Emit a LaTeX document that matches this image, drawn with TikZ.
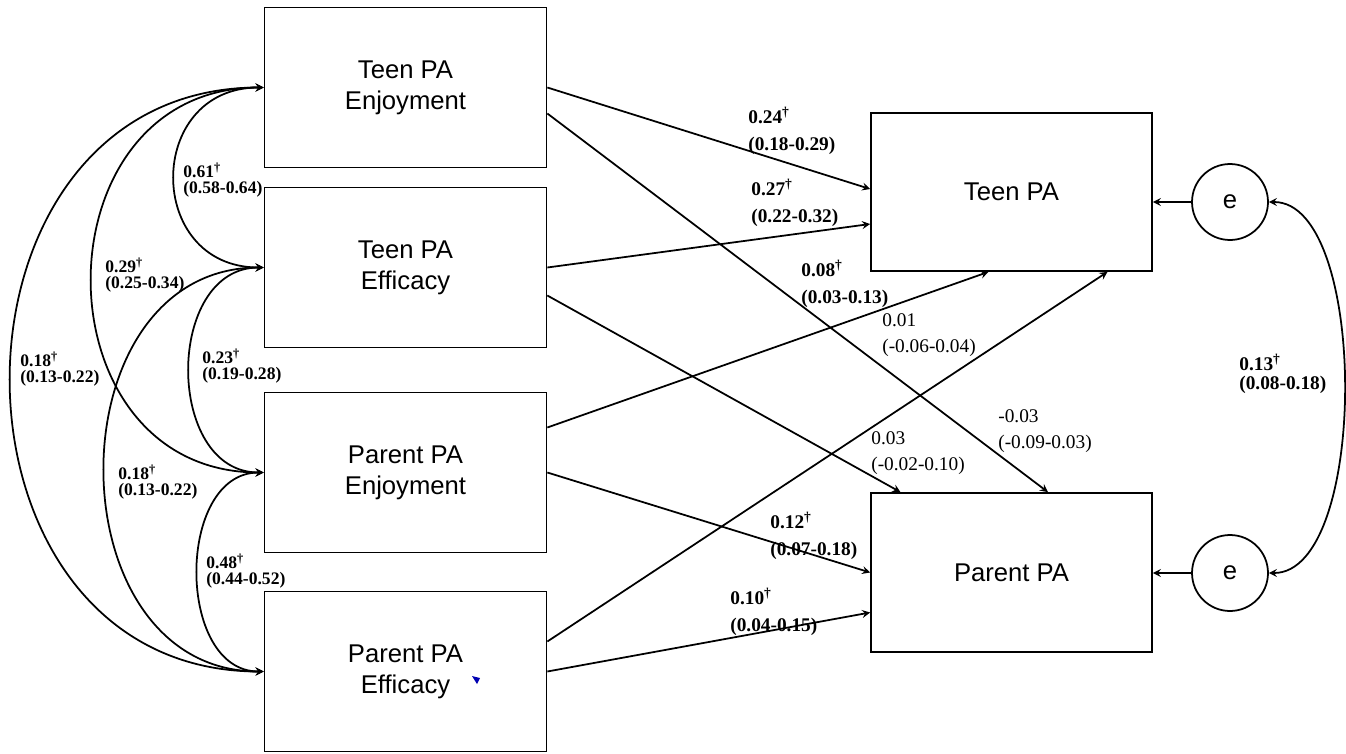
\documentclass[tikz,border=0pt]{standalone}
\usepackage{fontspec}
\setmainfont{Liberation Serif}
\newfontfamily\boxfont{Liberation Sans}
\usetikzlibrary{arrows, calc}
\newcommand{\sigdag}{\textsuperscript{\dag}}

\begin{document}
\begin{tikzpicture}[
    x=0.02cm, y=-0.02cm,
    var/.style={rectangle, draw, line width=1pt, minimum width=5.64cm, minimum height=3.2cm, align=center, font=\boxfont\fontsize{14.6}{17.5}\selectfont},
    err/.style={circle, draw, line width=1pt, minimum size=1.52cm, inner sep=0pt, font=\boxfont\fontsize{14.6}{17.5}\selectfont},
    effect/.style={->, >=stealth, line width=1pt},
    cov/.style={<->, >=stealth, line width=1pt},
    coef/.style={anchor=west, align=left, inner sep=0pt, font=\fontsize{11}{15}\selectfont},
    sig/.style={coef, font=\bfseries\fontsize{11}{15}\selectfont},
    corr/.style={anchor=west, align=left, inner sep=0pt, font=\bfseries\fontsize{10}{9}\selectfont}
]
\useasboundingbox (0,0) rectangle (1346,754);

\node[var] (tpe) at (405.5,87.5) {Teen PA\\Enjoyment};
\node[var] (tpf) at (405.5,267.5) {Teen PA\\Efficacy};
\node[var] (ppe) at (405.5,472.5) {Parent PA\\Enjoyment};
\node[var] (ppf) at (405.5,671.5) {Parent PA\\Efficacy};
\node[var, minimum width=5.62cm, minimum height=3.16cm] (tpa) at (1011.5,192) {Teen PA};
\node[var, minimum width=5.62cm, minimum height=3.18cm] (ppa) at (1011.5,572.5) {Parent PA};
\node[err] (e1) at (1230,202) {e};
\node[err] (e2) at (1230,573) {e};

\draw[effect] (tpe.east) -- ($(tpa.west)+(0,-3)$);
\draw[effect] ($(tpe.east)+(0,26)$) -- ($(ppa.north)+(36.5,0)$);
\draw[effect] (tpf.east) -- ($(tpa.west)+(0,32)$);
\draw[effect] ($(tpf.east)+(0,28)$) -- ($(ppa.north)+(-111,0)$);
\draw[effect] ($(ppe.east)+(0,-45)$) -- ($(tpa.south)+(-23,0)$);
\draw[effect] (ppe.east) -- (ppa.west);
\draw[effect] ($(ppf.east)+(0,-30)$) -- ($(tpa.south)+(96,0)$);
\draw[effect] (ppf.east) -- ($(ppa.west)+(0,40)$);
\draw[effect] (e1) -- (e1 -| tpa.east);
\draw[effect] (e2) -- (e2 -| ppa.east);

\draw[cov] (tpe.west) .. controls +(-119,0) and +(-119,0) .. (tpf.west);
\draw[cov] (tpf.west) .. controls +(-99,0) and +(-99,0) .. (ppe.west);
\draw[cov] (ppe.west) .. controls +(-88,0) and +(-88,0) .. (ppf.west);
\draw[cov] (tpe.west) .. controls +(-229,0) and +(-229,0) .. (ppe.west);
\draw[cov] (tpf.west) .. controls +(-212,0) and +(-212,0) .. (ppf.west);
\draw[cov] (tpe.west) .. controls +(-337,0) and +(-337,0) .. (ppf.west);
\draw[cov] (e1.east) .. controls +(100,0) and +(100,0) .. (e2.east);

\node[corr] (r61) at (183,180) {0.61\sigdag\\(0.58-0.64)};
\node[corr] (r29) at (105,275) {0.29\sigdag\\(0.25-0.34)};
\node[corr] (r18a) at (20,369) {0.18\sigdag\\(0.13-0.22)};
\node[corr] (r23) at (202,366) {0.23\sigdag\\(0.19-0.28)};
\node[corr] (r18b) at (118,482) {0.18\sigdag\\(0.13-0.22)};
\node[corr] (r48) at (206,571) {0.48\sigdag\\(0.44-0.52)};

\node[sig] (b24) at (748,131) {0.24\sigdag\\(0.18-0.29)};
\node[sig] (b27) at (751,203) {0.27\sigdag\\(0.22-0.32)};
\node[sig] (b08) at (801,284) {0.08\sigdag\\(0.03-0.13)};
\node[coef] (b01) at (882,335) {0.01\\(-0.06-0.04)};
\node[coef] (bm03) at (998,431) {-0.03\\(-0.09-0.03)};
\node[coef] (b03) at (871,453) {0.03\\(-0.02-0.10)};
\node[sig] (b12) at (770,536) {0.12\sigdag\\(0.07-0.18)};
\node[sig] (b10) at (730,612) {0.10\sigdag\\(0.04-0.15)};
\node[sig, font=\bfseries\fontsize{11}{10.5}\selectfont] (b13) at (1239,374) {0.13\sigdag\\(0.08-0.18)};

\fill[blue!70!black] (472,676) -- (480,678) -- (477,684) -- cycle;

\end{tikzpicture}
\end{document}
